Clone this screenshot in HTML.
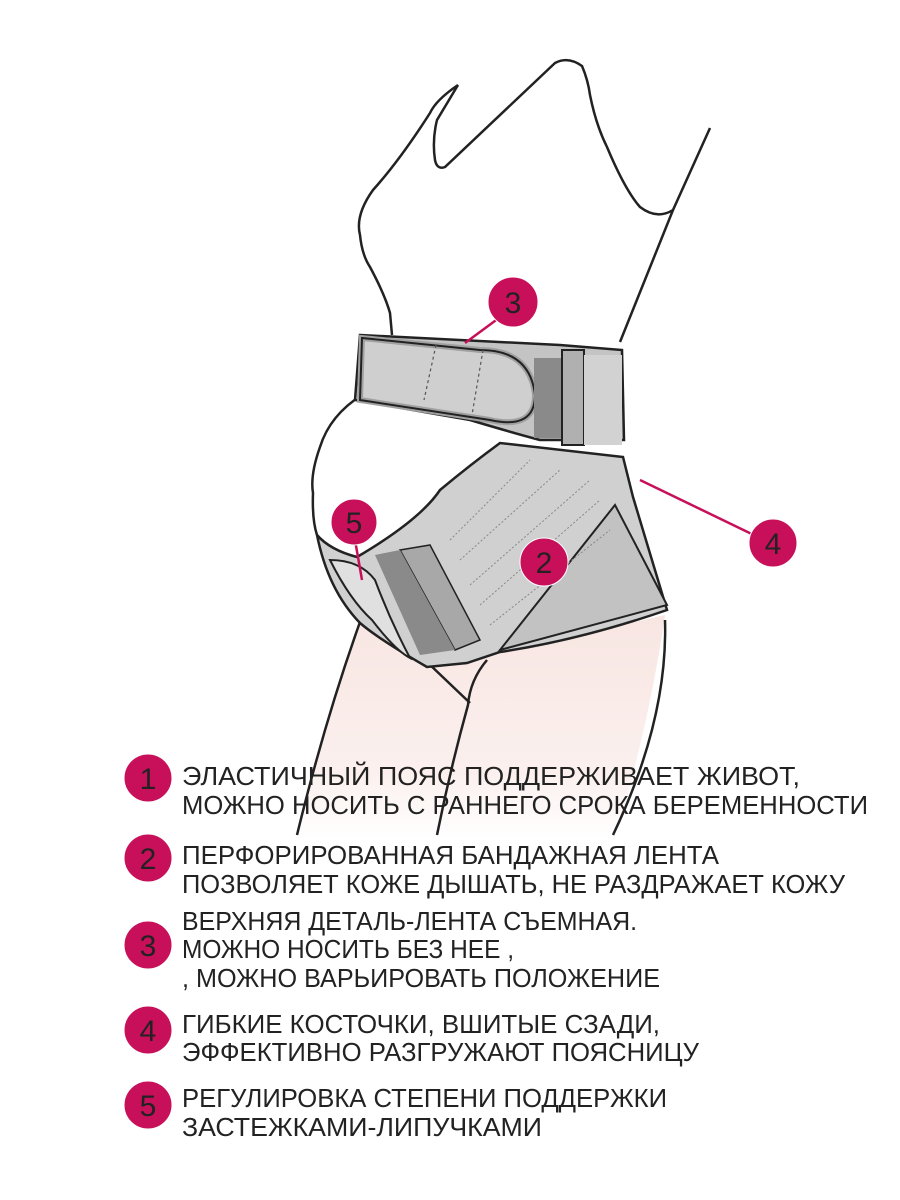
<!DOCTYPE html>
<html><head><meta charset="utf-8"><style>
html,body{margin:0;padding:0;background:#fff;}
svg{display:block}
text{font-family:"Liberation Sans",sans-serif;}
</style></head><body>
<svg width="900" height="1200" viewBox="0 0 900 1200" xmlns="http://www.w3.org/2000/svg">
<defs>
<linearGradient id="leg" x1="0" y1="0" x2="0" y2="1"><stop offset="0" stop-color="#f8e6e2"/><stop offset="0.7" stop-color="#fbf0ee"/><stop offset="1" stop-color="#ffffff"/></linearGradient>
</defs>
<path d="M360,620 Q325,720 297,840 L615,840 Q650,720 665,615 L470,660 L430,665 Z" fill="url(#leg)"/>
<g fill="none" stroke="#222" stroke-width="2.5">
<path d="M360,622 Q325,720 297,835"/>
<path d="M427,662 L470,703"/>
<path d="M487,660 Q470,680 468,705 Q450,770 437,835"/>
<path d="M665,620 Q668,720 613,835"/>
<path d="M458,85 Q436,100 430,113 Q400,160 373,190 Q355,215 360,235 Q362,255 370,267 Q385,295 390,313 L392,335"/>
<path d="M458,85 L437,120 Q432,140 435,160 Q437,170 445,167 L555,63 Q568,56 582,66 Q588,80 590,95 Q596,125 607,147 Q625,190 640,207 Q657,220 673,210 L710,128"/>
<path d="M673,210 Q645,280 620,342"/>
<path d="M362,395 Q330,415 320,447 Q310,475 313,493 Q312,520 317,535"/>
</g>
<path d="M360,335 L560,345 L622,350 L624,440 L540,440 Q510,432 470,420 L355,400 Z" fill="#c4c4c4" stroke="#222" stroke-width="2.5"/>
<path d="M480,350 Q530,350 535,395 Q535,430 490,420 L360,400 L362,338 Z" fill="#cfcfcf" stroke="#a0a0a0" stroke-width="6"/>
<path d="M480,350 Q530,350 535,395 Q535,430 490,420 L360,400 L362,338 Z" fill="none" stroke="#222" stroke-width="2"/>
<rect x="534" y="358" width="28" height="80" fill="#8a8a8a"/>
<rect x="562" y="350" width="22" height="95" fill="#b0b0b0" stroke="#222" stroke-width="2"/>
<rect x="584" y="355" width="38" height="90" fill="#d2d2d2"/>
<g stroke="#555" stroke-width="1.2" stroke-dasharray="3,3"><line x1="436" y1="345" x2="424" y2="400"/><line x1="483" y1="350" x2="472" y2="415"/></g>
<path d="M317,535 Q330,550 357,557 Q420,520 440,490 Q470,465 500,443 L623,457 L633,497 L667,610 Q580,640 500,652 L467,663 L427,667 Q380,640 360,623 Q328,590 317,535 Z" fill="#d0d0d0" stroke="#222" stroke-width="2.5"/>
<path d="M615,505 L667,605 L500,650 Z" fill="#c2c2c2" stroke="#222" stroke-width="2"/>
<path d="M400,550 L430,545 L480,640 L455,650 Z" fill="#a8a8a8" stroke="#222" stroke-width="1.5"/>
<path d="M375,555 L400,550 L455,650 L420,655 Z" fill="#8a8a8a"/>
<path d="M330,560 Q350,600 372,620 Q395,650 410,658 Q390,620 375,580 Q360,560 330,560 Z" fill="#e0e0e0" stroke="#222" stroke-width="2"/>
<g stroke="#888" stroke-width="1" stroke-dasharray="2,2">
<line x1="450" y1="540" x2="530" y2="460"/><line x1="460" y1="560" x2="560" y2="470"/><line x1="470" y1="585" x2="590" y2="480"/><line x1="480" y1="605" x2="600" y2="500"/><line x1="490" y1="625" x2="610" y2="530"/>
</g>
<g stroke="#c8105a" stroke-width="2.5"><line x1="503" y1="315" x2="465" y2="343"/><line x1="640" y1="480" x2="760" y2="538"/><line x1="355" y1="540" x2="362" y2="580"/></g>
<g fill="#c8105a" stroke="#fff" stroke-width="1">
<circle cx="513" cy="302" r="25"/><circle cx="354" cy="522" r="23"/><circle cx="544" cy="562" r="24"/><circle cx="773" cy="543" r="24"/>
<circle cx="148" cy="778" r="24"/><circle cx="148" cy="858" r="24"/><circle cx="148" cy="945" r="24"/><circle cx="148" cy="1030" r="24"/><circle cx="148" cy="1105" r="24"/>
</g>
<g font-size="30" fill="#222" text-anchor="middle">
<text x="513" y="313">3</text><text x="354" y="533">5</text><text x="544" y="573">2</text><text x="773" y="554">4</text>
<text x="148" y="789">1</text><text x="148" y="869">2</text><text x="148" y="956">3</text><text x="148" y="1041">4</text><text x="148" y="1116">5</text>
</g>
<g font-size="26" fill="#222">
<text x="182" y="785" textLength="618" lengthAdjust="spacingAndGlyphs">ЭЛАСТИЧНЫЙ ПОЯС ПОДДЕРЖИВАЕТ ЖИВОТ,</text>
<text x="182" y="814" textLength="686" lengthAdjust="spacingAndGlyphs">МОЖНО НОСИТЬ С РАННЕГО СРОКА БЕРЕМЕННОСТИ</text>
<text x="182" y="864" textLength="537" lengthAdjust="spacingAndGlyphs">ПЕРФОРИРОВАННАЯ БАНДАЖНАЯ ЛЕНТА</text>
<text x="182" y="893" textLength="663" lengthAdjust="spacingAndGlyphs">ПОЗВОЛЯЕТ КОЖЕ ДЫШАТЬ, НЕ РАЗДРАЖАЕТ КОЖУ</text>
<text x="182" y="930" textLength="455" lengthAdjust="spacingAndGlyphs">ВЕРХНЯЯ ДЕТАЛЬ-ЛЕНТА СЪЕМНАЯ.</text>
<text x="182" y="958" textLength="332" lengthAdjust="spacingAndGlyphs">МОЖНО НОСИТЬ БЕЗ НЕЕ ,</text>
<text x="182" y="987" textLength="478" lengthAdjust="spacingAndGlyphs">, МОЖНО ВАРЬИРОВАТЬ ПОЛОЖЕНИЕ</text>
<text x="182" y="1033" textLength="478" lengthAdjust="spacingAndGlyphs">ГИБКИЕ КОСТОЧКИ, ВШИТЫЕ СЗАДИ,</text>
<text x="182" y="1061" textLength="517" lengthAdjust="spacingAndGlyphs">ЭФФЕКТИВНО РАЗГРУЖАЮТ ПОЯСНИЦУ</text>
<text x="182" y="1107" textLength="485" lengthAdjust="spacingAndGlyphs">РЕГУЛИРОВКА СТЕПЕНИ ПОДДЕРЖКИ</text>
<text x="182" y="1136" textLength="360" lengthAdjust="spacingAndGlyphs">ЗАСТЕЖКАМИ-ЛИПУЧКАМИ</text>
</g>
</svg>
</body></html>
